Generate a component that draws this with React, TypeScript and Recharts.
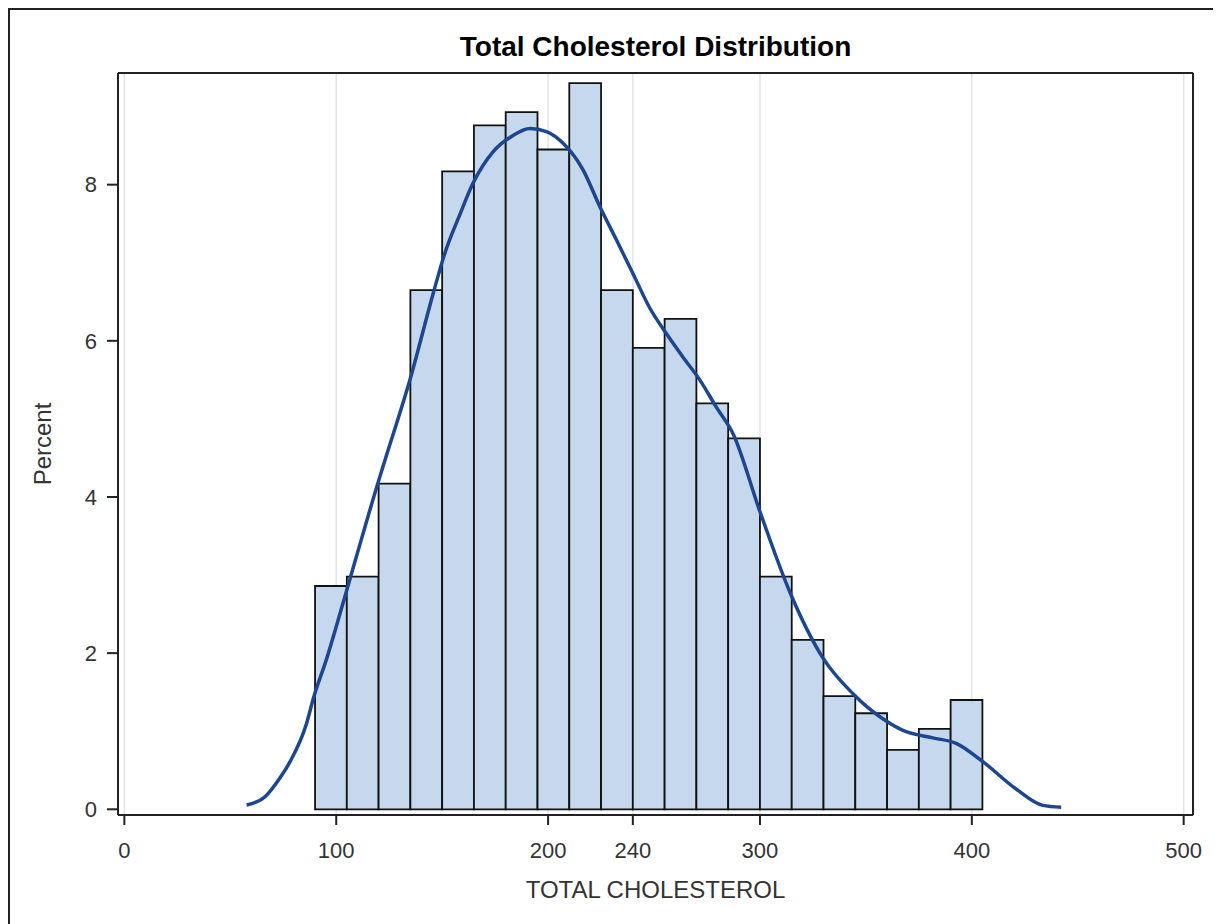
import React from 'react';
import { ComposedChart, Line, XAxis, YAxis, CartesianGrid, ReferenceArea, ReferenceLine } from 'recharts';

const binStarts = [90, 105, 120, 135, 150, 165, 180, 195, 210, 225, 240, 255, 270, 285, 300, 315, 330, 345, 360, 375, 390];
const binEnds = [105, 120, 135, 150, 165, 180, 195, 210, 225, 240, 255, 270, 285, 300, 315, 330, 345, 360, 375, 390, 405];
const percents = [2.86, 2.98, 4.17, 6.65, 8.17, 8.76, 8.93, 8.45, 9.3, 6.65, 5.91, 6.28, 5.2, 4.75, 2.98, 2.17, 1.45, 1.23, 0.76, 1.03, 1.4];

const densityX = [57.7, 66.4, 73.4, 78.2, 86, 89.2, 95.5, 105, 112, 119.8, 123, 134.8, 145.8, 151, 158.4, 164.6, 174, 183.5, 191.4, 199.2, 207.1, 216.5, 224.4, 232.3, 240.1, 248, 255.9, 263.7, 271.6, 279.4, 287.3, 299.9, 314, 329.7, 343.9, 359.6, 367.5, 381.6, 392.6, 405.2, 420.9, 433.5, 442.2];
const densityY = [0.055, 0.16, 0.4, 0.61, 1.1, 1.42, 1.93, 2.81, 3.47, 4.19, 4.47, 5.5, 6.61, 7.1, 7.62, 8.02, 8.42, 8.63, 8.72, 8.68, 8.53, 8.19, 7.72, 7.29, 6.86, 6.42, 6.09, 5.79, 5.5, 5.15, 4.81, 3.82, 2.79, 1.94, 1.48, 1.13, 1.01, 0.915, 0.845, 0.61, 0.26, 0.05, 0.025];

const xTicks = [0, 100, 200, 240, 300, 400, 500];
const yTicks = [0, 2, 4, 6, 8];
const xDomain = [-3, 504.4];
const yDomain = [-0.073, 9.43];

const curveData = densityX.map((x, i) => ({ x, density: densityY[i] }));

const FONT = '"Liberation Sans", Arial, Helvetica, sans-serif';

export default function App() {
  return (
    <div style={{ position: 'relative', width: 1213, height: 916, overflow: 'hidden', fontFamily: FONT }}>
      <div
        style={{
          position: 'absolute',
          left: 0,
          top: 0,
          width: 1300,
          height: 1000,
          borderTop: '2px solid #222',
          borderLeft: '2px solid #222',
          boxSizing: 'border-box',
          pointerEvents: 'none',
          zIndex: 2,
        }}
      />
      <div
        style={{
          position: 'absolute',
          left: 110,
          width: 1075,
          top: 25,
          textAlign: 'center',
          fontWeight: 'bold',
          fontSize: 28,
          lineHeight: '28px',
          color: '#000',
          zIndex: 1,
        }}
      >
        Total Cholesterol Distribution
      </div>
      <ComposedChart
        width={1213}
        height={916}
        data={curveData}
        margin={{ top: 65, right: 28, left: 0, bottom: 0 }}
        style={{ fontFamily: FONT }}
      >
        <CartesianGrid horizontal={false} stroke="#e4e4e4" strokeWidth={1.5} />
        <XAxis
          dataKey="x"
          type="number"
          domain={xDomain}
          ticks={xTicks}
          interval={0}
          allowDataOverflow
          height={109}
          tickSize={10}
          tickMargin={17}
          stroke="#222"
          strokeWidth={2}
          tick={{ fill: '#333', fontSize: 22 }}
          label={{ value: 'TOTAL CHOLESTEROL', position: 'insideBottom', offset: 26, fill: '#333', fontSize: 24 }}
        />
        <YAxis
          type="number"
          domain={yDomain}
          ticks={yTicks}
          interval={0}
          allowDataOverflow
          width={110}
          tickSize={11}
          tickMargin={10}
          stroke="#222"
          strokeWidth={2}
          tick={{ fill: '#333', fontSize: 22 }}
          label={{ value: 'Percent', angle: -90, position: 'insideLeft', offset: 34, fill: '#333', fontSize: 24, style: { textAnchor: 'middle' } }}
        />
        {binStarts.map((s, i) => (
          <ReferenceArea
            key={s}
            x1={s}
            x2={binEnds[i]}
            y1={0}
            y2={percents[i]}
            fill="#c5d8ee"
            fillOpacity={1}
            stroke="#111"
            strokeWidth={1.8}
            ifOverflow="visible"
          />
        ))}
        <ReferenceLine y={yDomain[1]} stroke="#222" strokeWidth={2} ifOverflow="visible" />
        <ReferenceLine x={xDomain[1]} stroke="#222" strokeWidth={2} ifOverflow="visible" />
        <Line
          dataKey="density"
          type="monotone"
          stroke="#1d4690"
          strokeWidth={3.5}
          dot={false}
          activeDot={false}
          isAnimationActive={false}
        />
      </ComposedChart>
    </div>
  );
}
